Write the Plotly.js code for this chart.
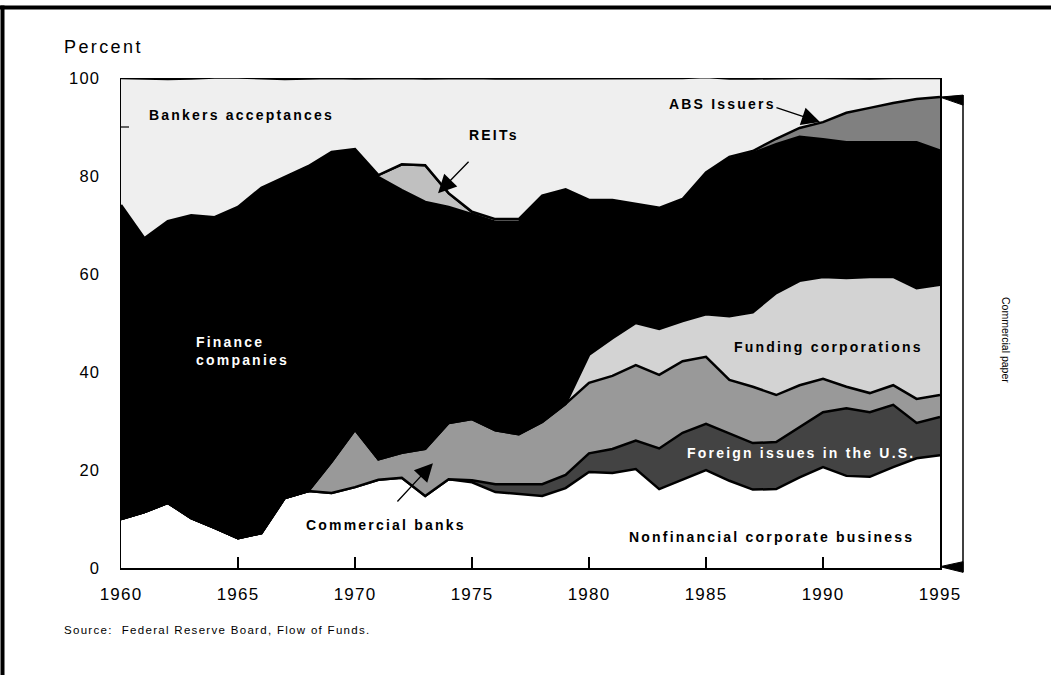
<!DOCTYPE html>
<html>
<head>
<meta charset="utf-8">
<script src="https://cdn.plot.ly/plotly-3.0.1.min.js"></script>
<style>
body{margin:0;background:#fff;}
#chart{width:1051px;height:675px;}
.xtick text,.ytick text{letter-spacing:1.2px;}
g.annotation text.annotation-text{letter-spacing:2.2px;}
g.annotation[data-index="8"] text.annotation-text{letter-spacing:2.4px;}
g.annotation[data-index="9"] text.annotation-text{letter-spacing:1.3px;}
g.annotation[data-index="10"] text.annotation-text{letter-spacing:0px;}
</style>
</head>
<body>
<div id="chart"></div>
<script>
// ---- data (percent of commercial paper / short-term credit by holder group) ----
const years = [1960,1961,1962,1963,1964,1965,1966,1967,1968,1969,1970,1971,1972,1973,1974,1975,1976,1977,1978,1979,1980,1981,1982,1983,1984,1985,1986,1987,1988,1989,1990,1991,1992,1993,1994,1995];

const nonfinancialCorporate = [10.0,11.4,13.3,10.2,8.2,6.1,7.1,14.3,15.7,15.3,16.5,18.0,18.4,14.7,18.1,17.5,15.5,15.1,14.7,16.3,19.6,19.4,20.2,16.1,18.0,20.0,17.8,16.0,16.1,18.5,20.6,18.8,18.6,20.6,22.4,23.0];
const foreignIssues = [0,0,0,0,0,0,0,0,0,0,0,0,0,0,0,0.4,1.6,2.0,2.4,2.7,3.8,4.9,5.8,8.3,9.6,9.4,9.7,9.5,9.6,10.3,11.2,13.8,13.2,12.7,7.2,7.8];
const commercialBanks = [0,0,0,0,0,0,0,0,0,6.4,11.7,4.2,5.1,9.6,11.5,12.5,11.0,10.2,12.7,14.5,14.4,14.9,15.4,15.0,14.6,13.7,10.9,11.5,9.6,8.5,6.8,4.4,3.9,4.0,4.9,4.5];
const fundingCorporations = [0,0,0,0,0,0,0,0,0,0,0,0,0,0,0,0,0,0,0,0,5.7,7.7,8.6,9.4,8.2,8.7,13.0,15.2,20.8,21.3,20.8,22.2,23.7,22.1,22.6,22.5];
const financeCompanies = [64.1,55.9,57.5,61.8,63.4,67.6,70.5,65.5,66.3,63.2,57.3,57.6,53.6,50.4,44.1,41.8,42.5,43.3,45.9,43.6,31.4,28.0,24.1,24.5,24.7,28.4,31.9,32.3,30.2,29.2,27.9,27.5,27.3,27.3,29.6,27.2];
const reits = [0,0,0,0,0,0,0,0,0,0,0,0.4,5.3,7.5,2.8,0.5,0.6,0.6,0.3,0.2,0.2,0.2,0.2,0.2,0.2,0.2,0.2,0.2,0.2,0.2,0.2,0.2,0.2,0.2,0.2,0.2];
const absIssuers = [0,0,0,0,0,0,0,0,0,0,0,0,0,0,0,0,0,0,0,0,0,0,0,0,0,0.3,0.4,0.4,1.1,1.8,3.5,6.0,7.0,8.0,8.8,10.9];
const bankersAcceptances = [25.9,32.6,29.0,27.9,28.5,26.4,22.4,20.0,17.9,15.1,14.4,19.8,17.6,17.7,23.5,27.3,28.7,28.7,23.9,22.7,24.9,24.9,25.6,26.4,24.7,19.5,16.0,14.8,12.4,10.2,9.0,7.0,6.0,5.1,4.3,3.9];

const tickYears = [1960,1965,1970,1975,1980,1985,1990,1995];
const yTicks = [0,20,40,60,80,100];

// ---- traces ----
function area(name, vals, color, lw){
  return {x: years, y: vals, name: name, type: 'scatter', mode: 'lines',
    stackgroup: 'cp', fill: 'tonexty', fillcolor: color,
    line: {color: '#000', width: lw, shape: 'linear'},
    cliponaxis: false, hoverinfo: 'skip'};
}
const data = [
  area('Nonfinancial corporate business', nonfinancialCorporate, '#ffffff', 2.5),
  area('Foreign issues in the U.S.', foreignIssues, '#434343', 2.5),
  area('Commercial banks', commercialBanks, '#999999', 2.5),
  area('Funding corporations', fundingCorporations, '#d3d3d3', 2.5),
  area('Finance companies', financeCompanies, '#000000', 2.5),
  area('REITs', reits, '#c0c0c0', 2.5),
  area('ABS Issuers', absIssuers, '#808080', 2.5),
  area('Bankers acceptances', bankersAcceptances, '#efefef', 2.5)
];

// ---- geometry helpers ----
const W = 1051, H = 675, ML = 121, MR = 111, MT = 78, MB = 107;
const PW = W - ML - MR, PH = H - MT - MB;
const hp = 1 / PH, wp = 1 / PW;
const yr = [0, 100];
const last = years.length - 1;
const cpTop = nonfinancialCorporate[last] + foreignIssues[last] + commercialBanks[last] +
  fundingCorporations[last] + financeCompanies[last] + reits[last] + absIssuers[last];
const topY = (cpTop - yr[0]) / (yr[1] - yr[0]);
const xB = 1 + 23 * wp;

const shapes = [
  // outer frame (top and left)
  {type: 'line', xref: 'paper', yref: 'paper', x0: -0.2, x1: 1.2, y0: 1 + 70.5 * hp, y1: 1 + 70.5 * hp, line: {color: '#000', width: 4}},
  {type: 'line', xref: 'paper', yref: 'paper', x0: -118.5 * wp, x1: -118.5 * wp, y0: 1 + 72.5 * hp, y1: -0.3, line: {color: '#000', width: 4}},
  // small inside tick at 90
  {type: 'line', xref: 'paper', yref: 'y', x0: 0, x1: 8 * wp, y0: 90, y1: 90, line: {color: '#000', width: 1.2}},
  // commercial paper bracket
  {type: 'line', xref: 'paper', yref: 'paper', x0: xB, x1: xB, y0: topY + 2 * hp, y1: -4.3 * hp, line: {color: '#000', width: 1.5}},
  {type: 'path', xref: 'paper', yref: 'paper',
    path: `M 1,${topY} L ${xB},${topY + 2 * hp} L ${xB},${topY - 8 * hp} Z`,
    fillcolor: '#000', line: {color: '#000', width: 1}},
  {type: 'path', xref: 'paper', yref: 'paper',
    path: `M 1,${1.3 * hp} L ${xB},${6.3 * hp} L ${xB},${-4.3 * hp} Z`,
    fillcolor: '#000', line: {color: '#000', width: 1}}
];

const boldFont = {size: 14, weight: 700, color: '#000'};
const whiteBold = {size: 14, weight: 700, color: '#fff'};
function lab(text, x, y, font){
  return {text: text, x: x, y: y, xref: 'x', yref: 'y', xanchor: 'left', yanchor: 'middle', align: 'left', showarrow: false, font: font};
}
function arrow(x, y, ax, ay){
  return {text: ' ', x: x, y: y, xref: 'x', yref: 'y', ax: ax, ay: ay, showarrow: true,
    arrowhead: 2, arrowsize: 2.8, arrowwidth: 1.3, arrowcolor: '#000', standoff: 0, startstandoff: 0,
    font: {size: 1}};
}

const annotations = [
  lab('Bankers acceptances', 1961.11, 92.45, boldFont),          // 0
  lab('REITs', 1974.79, 88.4, boldFont),                          // 1
  lab('ABS Issuers', 1983.33, 94.7, boldFont),                    // 2
  lab('Finance<br>companies', 1963.12, 44.3, whiteBold),          // 3
  lab('Funding corporations', 1986.11, 45.1, boldFont),           // 4
  lab('Foreign issues in the U.S.', 1984.10, 23.5, whiteBold),    // 5
  lab('Commercial banks', 1967.82, 8.8, boldFont),                // 6
  lab('Nonfinancial corporate business', 1981.62, 6.3, boldFont), // 7
  {text: 'Percent', x: -59 * wp, y: 1 + 31 * hp, xref: 'paper', yref: 'paper', xanchor: 'left', yanchor: 'middle', align: 'left', showarrow: false, font: {size: 18, color: '#000'}}, // 8
  {text: 'Source:  Federal Reserve Board, Flow of Funds.', x: -59 * wp, y: -62 * hp, xref: 'paper', yref: 'paper', xanchor: 'left', yanchor: 'middle', align: 'left', showarrow: false, font: {size: 11.5, color: '#000'}}, // 9
  {text: 'Commercial paper', x: 1 + 66 * wp, y: 228 * hp, xref: 'paper', yref: 'paper', xanchor: 'center', yanchor: 'middle', textangle: 90, showarrow: false, font: {size: 10.5, color: '#000'}}, // 10
  arrow(1973.55, 76.5, 32, -33),   // REITs arrow
  arrow(1989.87, 91.0, -45, -15),  // ABS arrow
  arrow(1973.33, 21.4, -37, 40)    // Commercial banks arrow
];

const layout = {
  width: W, height: H,
  margin: {l: ML, r: MR, t: MT, b: MB, pad: 0},
  paper_bgcolor: '#fff', plot_bgcolor: '#fff',
  showlegend: false,
  font: {family: 'Arial, "Liberation Sans", Helvetica, sans-serif', color: '#000'},
  xaxis: {range: [1960, 1995], tickvals: tickYears, ticktext: tickYears.map(String),
    ticks: 'inside', ticklen: 11, tickwidth: 1.5, tickcolor: '#000',
    showline: true, linecolor: '#000', linewidth: 2, showgrid: false, zeroline: false,
    tickfont: {size: 17, color: '#000'}, ticklabelstandoff: 10, fixedrange: true},
  yaxis: {range: yr, tickvals: yTicks, ticktext: yTicks.map(String), ticks: '',
    showline: true, mirror: true, linecolor: '#000', linewidth: 1.5, showgrid: false, zeroline: false,
    tickfont: {size: 16.5, color: '#000'}, ticklabelstandoff: 16, fixedrange: true},
  shapes: shapes,
  annotations: annotations
};

Plotly.newPlot('chart', data, layout, {displayModeBar: false, staticPlot: true});
</script>
</body>
</html>
